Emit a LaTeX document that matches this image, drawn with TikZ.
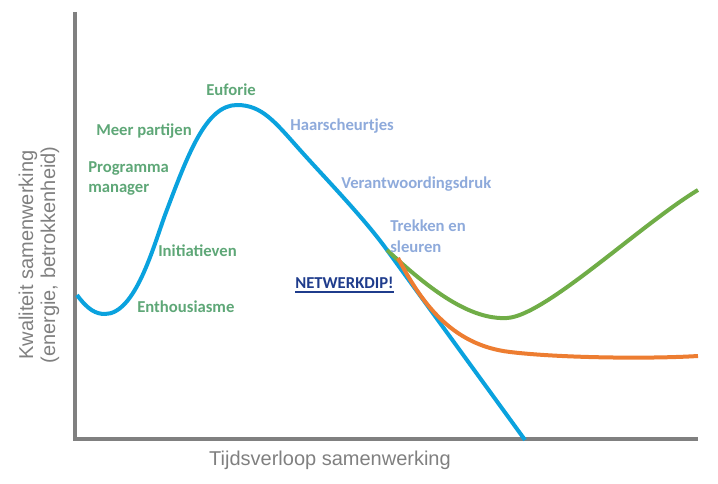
\documentclass[tikz,border=0pt]{standalone}
\usepackage{fontspec}
\setmainfont{Carlito}
\newfontfamily\arialfont{Liberation Sans}
\definecolor{axisgray}{HTML}{808080}
\definecolor{curveblue}{HTML}{0AA2DE}
\definecolor{curvegreen}{HTML}{70AD47}
\definecolor{curveorange}{HTML}{ED7D31}
\definecolor{lblgreen}{HTML}{5EA777}
\definecolor{lblblue}{HTML}{8EAADB}
\definecolor{dipblue}{HTML}{1F3C8C}
\begin{document}
\begin{tikzpicture}[x=0.75pt,y=-0.75pt,
  axis/.style={draw=axisgray,line width=2.4pt},
  curve/.style={line width=3pt},
  glabel/.style={anchor=west,inner sep=0pt,text=lblgreen,font=\fontsize{12.5}{15.5}\selectfont\bfseries,align=left},
  blabel/.style={anchor=west,inner sep=0pt,text=lblblue,font=\fontsize{12.5}{15.5}\selectfont\bfseries,align=left},
  axlabel/.style={inner sep=0pt,text=axisgray,font=\fontsize{15}{16.5}\selectfont\arialfont}]
\useasboundingbox (0,0) rectangle (718,484);
% axes
\coordinate (o) at (75,439);
\coordinate (ytop) at (75,12);
\coordinate (xend) at (698,439);
\draw[axis] (ytop) -- (o) -- (xend);
% curves
\draw[curve,curveblue] (77,295) .. controls (88,310) and (96,314) .. (105,314)
  .. controls (135,314) and (153,248) .. (165,215)
  .. controls (188,154) and (206,105) .. (237,105)
  .. controls (262,105) and (275,122) .. (300,150)
  .. controls (325,178) and (364,218) .. (387,250)
  -- (525,440);
\draw[curve,curvegreen] (387,250) .. controls (430,290) and (470,320) .. (507,318)
  .. controls (545,316) and (640,225) .. (698,190);
\draw[curve,curveorange] (398,258) .. controls (420,300) and (450,345) .. (510,352)
  .. controls (560,358) and (650,359) .. (698,356);
% labels
\node[glabel,anchor=center] (euf) at (231,90) {Euforie};
\node[glabel] (meer) at (96,131) {Meer partijen};
\node[glabel] (prog) at (88,178.5) {Programma\\manager};
\node[glabel] (init) at (158,251) {Initiatieven};
\node[glabel] (enth) at (137,307) {Enthousiasme};
\node[blabel] (haar) at (290,126) {Haarscheurtjes};
\node[blabel] (ver) at (341,184) {Verantwoordingsdruk};
\node[blabel] (trek) at (390,236) {Trekken en\\sleuren};
\node[anchor=west,inner sep=0pt,text=dipblue,font=\fontsize{12.5}{15}\selectfont\bfseries] (dip) at (295,283) {NETWERKDIP!};
\draw[dipblue,line width=0.9pt] ([yshift=-2.2pt]dip.south west) -- ([yshift=-2.2pt]dip.south east);
\node[axlabel,rotate=90,align=center] (ylab) at (39,255) {Kwaliteit samenwerking\\(energie, betrokkenheid)};
\node[axlabel] (xlab) at (330,460) {Tijdsverloop samenwerking};
\end{tikzpicture}
\end{document}
